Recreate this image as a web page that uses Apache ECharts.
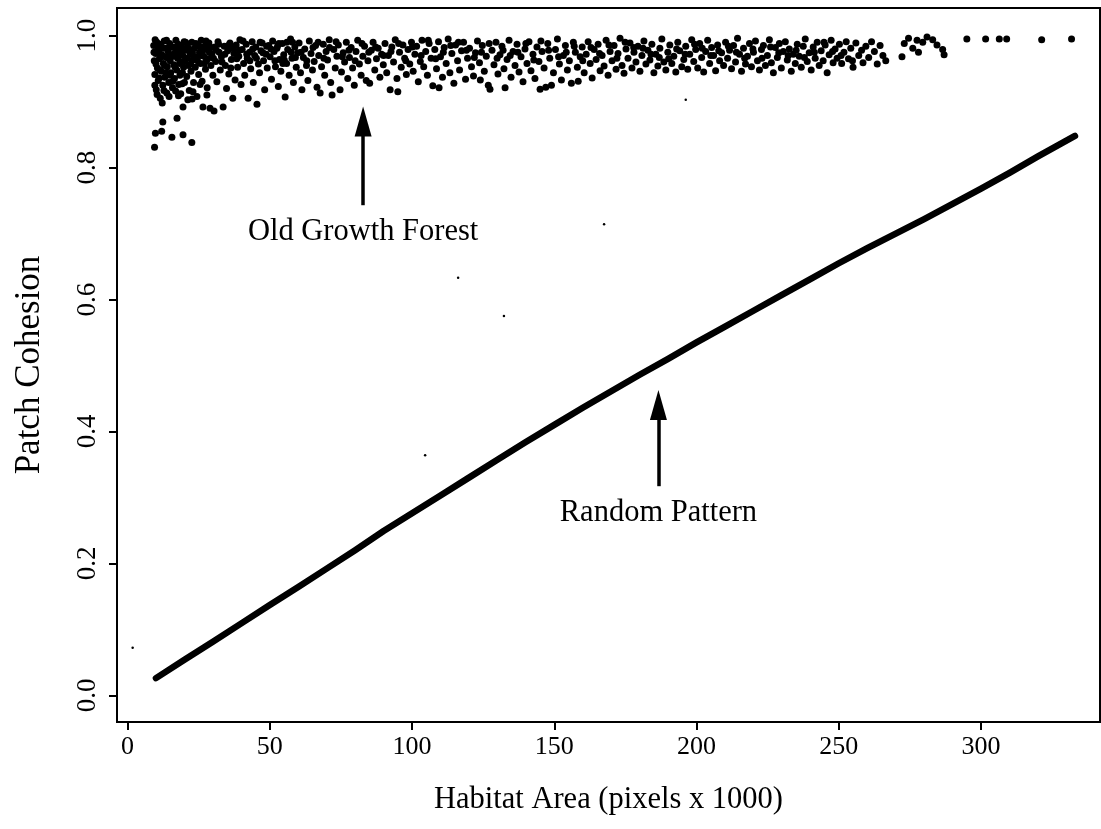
<!DOCTYPE html>
<html><head><meta charset="utf-8">
<script src="https://cdn.jsdelivr.net/npm/echarts@6/dist/echarts.min.js"></script>
<style>html,body{margin:0;padding:0;background:#fff}#c{width:1101px;height:829px}</style>
</head><body><div id="c"></div>
<script>
// tick labels
const xTicks = [0, 50, 100, 150, 200, 250, 300];
const yTicks = [0, 0.2, 0.4, 0.6, 0.8, 1.0];

// Random Pattern: dense points
const randomPattern = [
  [10, 0.026], [20, 0.054], [30, 0.081], [40, 0.109], [50, 0.137], [60, 0.164], [70, 0.192], [80, 0.220],
  [90, 0.249], [100, 0.276], [110, 0.303], [120, 0.330], [130, 0.357], [140, 0.384], [150, 0.410],
  [160, 0.436], [170, 0.461], [180, 0.486], [190, 0.510], [200, 0.535], [210, 0.559], [220, 0.583],
  [230, 0.607], [240, 0.631], [250, 0.655], [260, 0.678], [270, 0.700], [280, 0.722], [290, 0.745],
  [300, 0.768], [310, 0.792], [320, 0.817], [333, 0.848]
];

// Old Growth Forest points
const forestLow = [
  [9.5,0.831],[9.8,0.852],[12,0.855],[12.4,0.869],[17.4,0.875],[15.6,0.846],[19.5,0.850],[22.6,0.838],
  [12.2,0.898],[19.5,0.892],[22.7,0.904]
];
const forestA = [
  [9.2,0.985],[9.4,0.962],[9.6,0.941],[9.9,0.973],[10.1,0.918],[10.3,0.990],[10.5,0.951],[10.8,0.932],[11.0,0.978],[11.2,0.965],[11.5,0.905],[11.7,0.987],[11.9,0.946],[12.1,0.971],[12.4,0.925],[12.6,0.958],[12.9,0.992],[13.1,0.937],[13.3,0.968],[13.6,0.981],[13.8,0.913],[14.0,0.953],[14.3,0.976],[14.5,0.929],[14.8,0.988],[15.0,0.962],[15.2,0.944],[15.5,0.971],[15.8,0.921],[16.0,0.983],[16.3,0.956],[16.5,0.935],[16.8,0.975],[17.0,0.993],[17.3,0.948],[17.6,0.966],[17.9,0.909],[18.1,0.980],[18.4,0.940],[18.6,0.960],[18.9,0.985],[19.2,0.927],[19.4,0.970],[19.7,0.952],[19.9,0.991],
  [20.2,0.962],[20.5,0.978],[20.8,0.938],[21.1,0.987],[21.4,0.955],[21.7,0.917],[22.0,0.972],[22.3,0.946],[22.6,0.990],[22.9,0.963],[23.2,0.929],[23.5,0.981],[23.8,0.952],[24.1,0.968],[24.4,0.908],[24.7,0.986],[25.0,0.941],[25.3,0.975],[25.6,0.958],[25.9,0.993],[26.2,0.931],[26.5,0.892],[26.8,0.969],[27.1,0.984],[27.4,0.949],[27.7,0.962],[28.0,0.921],[28.3,0.978],[28.6,0.989],[29.0,0.890],[29.3,0.955],[29.6,0.972],[30.0,0.940],[30.4,0.886],[30.7,0.983],
  [31.0,0.961],[31.4,0.930],[31.8,0.991],[32.2,0.975],[32.6,0.948],[33.0,0.968],[33.6,0.892],[34.0,0.984],[34.4,0.955],[34.8,0.920],[35.2,0.977],[35.6,0.942],[36.0,0.989],[36.5,0.964],[37.0,0.905],[37.4,0.973],[37.8,0.933],[38.2,0.986],[38.7,0.952],[39.1,0.969],[39.5,0.994],[39.9,0.926],
  [40.3,0.979],[40.8,0.958],[41.2,0.940],[41.7,0.987],[42.1,0.966],[42.4,0.905],[42.9,0.975],[43.3,0.950],[43.8,0.991],[44.2,0.929],[44.7,0.970],[45.1,0.983],[45.5,0.896],[46.0,0.957],[46.4,0.944],[46.9,0.977],[47.3,0.989],[47.8,0.962],[48.2,0.918],[48.7,0.972],[49.1,0.951],[49.6,0.985]
];
const forestDense = [
  [9.3,0.975],[9.7,0.994],[10.0,0.957],[10.6,0.982],[11.3,0.948],[11.8,0.968],[12.5,0.981],[13.0,0.955],[13.7,0.993],[14.2,0.966],[14.9,0.940],[15.4,0.983],[16.1,0.969],[16.7,0.952],[17.2,0.979],[17.8,0.987],[18.3,0.958],[18.8,0.973],[19.3,0.944],[19.8,0.980],[20.4,0.990],[21.0,0.966],[21.6,0.980],[22.2,0.957],[22.8,0.975],[23.4,0.968],[24.0,0.988],[24.6,0.962],[25.2,0.984],[25.8,0.970],[26.4,0.978],[27.0,0.958],[27.6,0.992],[28.2,0.965],[28.8,0.975],[29.4,0.982],[30.2,0.966],[31.2,0.978],[32.0,0.987],[33.2,0.960],[34.2,0.972],[35.4,0.985],[36.3,0.951],[37.2,0.981],[38.4,0.965],[39.3,0.978],[40.6,0.992],[41.9,0.972],[43.0,0.962],[44.0,0.980],[45.3,0.966],[46.6,0.990],[47.6,0.974],[48.9,0.984],[50.4,0.980],[51.8,0.962],[53.2,0.988],[54.6,0.958],[56.0,0.990],[57.5,0.975],[59.0,0.967],
  [9.6,0.925],[10.4,0.911],[11.1,0.936],[12.8,0.917],[13.5,0.944],[14.6,0.908],[15.9,0.931],[16.9,0.916],[18.0,0.926],[18.7,0.912],[20.0,0.929],[21.2,0.903],[23.0,0.915],[25.5,0.926],[27.9,0.910]
];
const forestB = [
  [50.1,0.968],[50.6,0.934],[51.0,0.992],[51.5,0.976],[52.0,0.953],[52.5,0.981],[53.0,0.923],[53.4,0.964],[53.9,0.946],[54.4,0.988],[54.9,0.971],[55.4,0.907],[55.9,0.958],[56.3,0.979],[56.8,0.940],[57.3,0.995],[57.8,0.966],[58.3,0.929],[58.8,0.983],[59.3,0.952],[59.8,0.974],
  [60.3,0.989],[60.8,0.944],[61.3,0.918],[61.8,0.967],[62.3,0.980],[62.9,0.955],[63.4,0.932],[63.9,0.992],[64.5,0.973],[65.0,0.948],[65.6,0.961],[66.1,0.985],[66.6,0.922],[67.2,0.970],[67.7,0.913],[68.2,0.953],[68.8,0.987],[69.3,0.940],[69.8,0.976],
  [70.3,0.963],[70.9,0.994],[71.4,0.929],[71.9,0.910],[72.5,0.979],[73.0,0.951],[73.6,0.969],[74.1,0.986],[74.7,0.918],[75.2,0.945],[75.8,0.974],[76.3,0.960],[76.9,0.990],[77.4,0.935],[78.0,0.967],[78.6,0.982],[79.1,0.951],[79.7,0.925],
  [80.3,0.976],[80.9,0.993],[81.5,0.957],[82.1,0.940],[82.7,0.969],[83.3,0.984],[83.9,0.932],[84.5,0.962],[85.1,0.928],[85.7,0.978],[86.3,0.990],[86.9,0.948],[87.5,0.965],[88.1,0.981],[88.7,0.937],[89.3,0.972],
  [89.9,0.956],[90.5,0.988],[91.1,0.944],[91.7,0.970],[92.3,0.918],[92.9,0.983],[93.5,0.960],[94.1,0.994],[94.7,0.935],[95.0,0.915],[95.6,0.975],[96.2,0.952],[96.8,0.986],[97.4,0.966],[98.0,0.941],[98.6,0.979],[99.2,0.957],[99.8,0.990],
  [100.4,0.946],[101.0,0.972],[101.6,0.984],[102.2,0.930],[102.9,0.961],[103.5,0.993],[104.1,0.953],[104.8,0.976],[105.4,0.940],[106.0,0.988],[106.7,0.966],[107.3,0.924],[108.0,0.979],[108.6,0.950],[109.3,0.991],[109.5,0.921],
  [110.0,0.968],[110.7,0.937],[111.3,0.982],[112.0,0.958],[112.7,0.995],[113.3,0.944],[114.0,0.973],[114.7,0.928],[115.3,0.986],[116.0,0.962],[116.7,0.948],[117.4,0.977],[118.1,0.990],[118.8,0.934],[119.5,0.966],
  [120.2,0.981],[120.9,0.953],[121.6,0.939],[122.3,0.974],[123.0,0.992],[123.7,0.959],[124.0,0.933],[124.7,0.985],[125.4,0.946],[126.1,0.969],[126.8,0.925],[127.4,0.919],[128.1,0.978],[128.8,0.956],[129.5,0.990],
  [130.2,0.942],[130.9,0.971],[131.6,0.984],[132.3,0.950],[132.7,0.921],[133.4,0.964],[134.1,0.993],[134.8,0.937],[135.5,0.976],[136.2,0.955],[136.9,0.987],[137.6,0.945],[138.3,0.968],[139.0,0.930],[139.7,0.980],
  [140.4,0.958],[141.1,0.991],[141.8,0.947],[142.5,0.972],[143.2,0.935],[143.9,0.983],[144.6,0.961],[145.0,0.919],[145.7,0.976],[146.4,0.951],[147.0,0.922],[147.7,0.988],[148.4,0.966],[149.0,0.925],[149.7,0.944]
];
const forestC = [
  [150.4,0.979],[151.1,0.995],[151.8,0.957],[152.5,0.933],[153.2,0.970],[153.9,0.985],[154.6,0.948],[155.3,0.962],[156.0,0.928],[156.7,0.990],[157.4,0.975],[158.1,0.952],[158.4,0.931],[159.1,0.968],[159.8,0.983],
  [160.5,0.944],[161.2,0.972],[161.9,0.991],[162.6,0.958],[163.3,0.936],[164.0,0.979],[164.7,0.964],[165.4,0.987],[166.1,0.947],[166.8,0.970],[167.5,0.954],[168.2,0.993],[168.9,0.940],[169.6,0.976],
  [170.3,0.962],[171.0,0.985],[171.7,0.949],[172.4,0.973],[173.1,0.996],[173.8,0.955],[174.5,0.943],[175.2,0.980],[175.9,0.966],[176.6,0.989],[177.3,0.951],[178.0,0.975],[178.7,0.960],[179.4,0.984],
  [180.1,0.946],[180.8,0.970],[181.5,0.992],[182.2,0.957],[182.9,0.978],[183.6,0.963],[184.3,0.987],[185.0,0.944],[185.7,0.972],[186.4,0.954],[187.1,0.981],[187.8,0.995],[188.5,0.960],[189.2,0.948],
  [189.9,0.975],[190.6,0.986],[191.3,0.958],[192.0,0.969],[192.7,0.945],[193.4,0.990],[194.1,0.977],[194.8,0.953],[195.5,0.964],[196.2,0.984],[196.9,0.949],[197.6,0.972],[198.3,0.994],[199.0,0.961],[199.7,0.979],
  [200.4,0.951],[201.1,0.988],[201.8,0.967],[202.5,0.945],[203.2,0.976],[203.9,0.993],[204.6,0.958],[205.3,0.982],[206.0,0.970],[206.7,0.947],[207.4,0.986],[208.1,0.962],[208.8,0.974],[209.5,0.955],
  [210.2,0.990],[210.9,0.966],[211.6,0.978],[212.3,0.950],[213.0,0.985],[213.7,0.960],[214.4,0.996],[215.1,0.972],[215.8,0.946],[216.5,0.981],[217.2,0.957],[217.9,0.969],[218.6,0.988],[219.3,0.953],
  [220.0,0.975],[220.7,0.992],[221.4,0.962],[222.1,0.948],[222.8,0.979],[223.5,0.985],[224.2,0.955],[224.9,0.970],[225.6,0.994],[226.3,0.959],[227.0,0.944],[227.7,0.982],[228.4,0.967],[229.1,0.988],
  [229.8,0.951],[230.5,0.976],[231.2,0.991],[231.9,0.963],[232.6,0.980],[233.3,0.946],[234.0,0.972],[234.7,0.958],[235.4,0.987],[236.1,0.969],[236.8,0.952],[237.5,0.984],[238.2,0.995],[238.9,0.961],[239.6,0.974],
  [240.3,0.948],[241.0,0.983],[241.7,0.966],[242.4,0.990],[243.1,0.955],[243.8,0.977],[244.5,0.962],[245.2,0.986],[245.9,0.944],[246.6,0.971],[247.3,0.993],[248.0,0.959],[248.7,0.980],[249.4,0.966]
];
const forestExtra = [
  [52.8,0.985],[55.1,0.963],[58.0,0.990],[61.0,0.975],[63.0,0.962],[65.2,0.982],[67.0,0.990],[69.0,0.966],[71.0,0.982],[73.3,0.991],[75.5,0.968],[77.8,0.978],[80.0,0.962],[82.4,0.988],[84.8,0.975],[87.2,0.983],[90.0,0.970],[92.6,0.976],[95.3,0.988],[97.8,0.962],[100.1,0.983],[103.2,0.970],[105.7,0.993],[108.3,0.965],[111.0,0.975],[113.6,0.985],[116.3,0.990],[119.1,0.978],[121.9,0.967],[124.4,0.975],[127.1,0.988],[129.9,0.966],[132.0,0.978],[134.5,0.970],[137.2,0.975],[140.0,0.988],[142.8,0.963],[145.3,0.992],[148.0,0.978],[151.5,0.968],[154.2,0.975],[157.0,0.984],[160.0,0.962],[162.9,0.982],[165.9,0.973],[169.2,0.986],[172.0,0.966],[174.9,0.990],[177.9,0.982],[181.2,0.981],[184.0,0.972],[186.9,0.967],[190.2,0.965],[193.0,0.980],[196.0,0.972],[199.3,0.987],[202.0,0.981],[205.0,0.970],[207.8,0.977],[211.2,0.984],[214.0,0.975],[216.9,0.966],[219.8,0.980],[223.0,0.966],[226.0,0.983],[228.9,0.974],[232.2,0.970],[235.0,0.978],[237.9,0.967],[241.4,0.975],[244.8,0.990],[247.8,0.976],[250.8,0.970],[254.8,0.962],[258.0,0.978]
];
const forestD = [
  [250.2,0.987],[251.0,0.958],[251.8,0.975],[252.6,0.991],[253.4,0.965],[254.2,0.981],[255.0,0.952],[256.0,0.989],[257.0,0.970],[258.5,0.959],[259.5,0.984],
  [260.5,0.967],[261.5,0.991],[262.5,0.976],[263.5,0.957],[264.5,0.985],[265.5,0.970],[266.5,0.962],
  [272.2,0.968],[273.0,0.988],[274.5,0.996],[276.0,0.981],[277.5,0.993],[278.0,0.975],[279.5,0.990],[281.0,0.998],[283.0,0.994],[284.5,0.986],[286.5,0.979],[287.0,0.971],
  [295,0.995],[301.6,0.995],[306.4,0.995],[309,0.995],[321.3,0.994],[331.8,0.995]
];
// small stray specks visible in the figure
const specks = [[1.8,0.072],[104.6,0.364],[116.2,0.633],[132.3,0.575],[167.5,0.714],[196.2,0.903]];

// annotations: text and arrows (data coordinates)
const annotationText = [[82.8, 0.702, 'Old Growth Forest'], [186.6, 0.276, 'Random Pattern']];
const arrows = [
  [[82.8, 0.743], [82.8, 0.870]],
  [[186.6, 0.317], [186.6, 0.440]]
];

const forest = [].concat(forestLow, forestA, forestDense, forestB, forestC, forestExtra, forestD);
const FONT = 'Liberation Serif';

const chart = echarts.init(document.getElementById('c'), null, {renderer: 'canvas'});
chart.setOption({
  animation: false,
  backgroundColor: '#fff',
  grid: {left: 117, top: 8, right: 1, bottom: 107, show: true, borderColor: '#000', borderWidth: 2,
    containLabel: false, outerBoundsMode: 'none'},
  xAxis: {
    type: 'value', min: -3.7, max: 341.8,
    name: 'Habitat Area (pixels x 1000)', nameLocation: 'middle', nameGap: 62,
    nameTextStyle: {fontFamily: FONT, fontSize: 30.5, color: '#000'},
    axisLine: {show: true, onZero: false, lineStyle: {color: '#000', width: 2}},
    axisTick: {show: true, length: 8, lineStyle: {color: '#000', width: 2}, customValues: xTicks},
    axisLabel: {fontFamily: FONT, fontSize: 26, color: '#000', margin: 12, customValues: xTicks},
    splitLine: {show: false}
  },
  yAxis: {
    type: 'value', min: -0.0405, max: 1.042,
    name: 'Patch Cohesion', nameLocation: 'middle', nameGap: 70, nameRotate: 90,
    nameTextStyle: {fontFamily: FONT, fontSize: 35, color: '#000'},
    axisLine: {show: true, onZero: false, lineStyle: {color: '#000', width: 2}},
    axisTick: {show: true, length: 8, lineStyle: {color: '#000', width: 2}, customValues: yTicks},
    axisLabel: {fontFamily: FONT, fontSize: 27, color: '#000', margin: 16, rotate: 90,
      customValues: yTicks, formatter: v => v.toFixed(1)},
    splitLine: {show: false}
  },
  series: [
    {
      type: 'line', name: 'Random Pattern', data: randomPattern, showSymbol: false, smooth: false,
      lineStyle: {color: '#000', width: 6.5, cap: 'round', join: 'round'}, z: 3
    },
    {
      type: 'scatter', name: 'Old Growth Forest', data: forest, symbolSize: 7,
      itemStyle: {color: '#000', opacity: 1}, z: 3
    },
    {
      type: 'scatter', name: 'specks', data: specks, symbolSize: 2.5, itemStyle: {color: '#000', opacity: 1}
    },
    {
      type: 'scatter', name: 'annotations', data: annotationText, symbolSize: 0,
      itemStyle: {opacity: 1},
      label: {show: true, position: 'inside', formatter: p => p.data[2],
        fontFamily: FONT, fontSize: 30.5, color: '#000'},
      markLine: {
        silent: true, symbol: ['none', 'triangle'], symbolSize: [17, 30],
        lineStyle: {color: '#000', width: 3.5, type: 'solid', opacity: 1},
        itemStyle: {color: '#000'},
        label: {show: false},
        data: arrows.map(a => [{coord: a[0]}, {coord: a[1]}])
      }
    }
  ]
});
</script></body></html>
